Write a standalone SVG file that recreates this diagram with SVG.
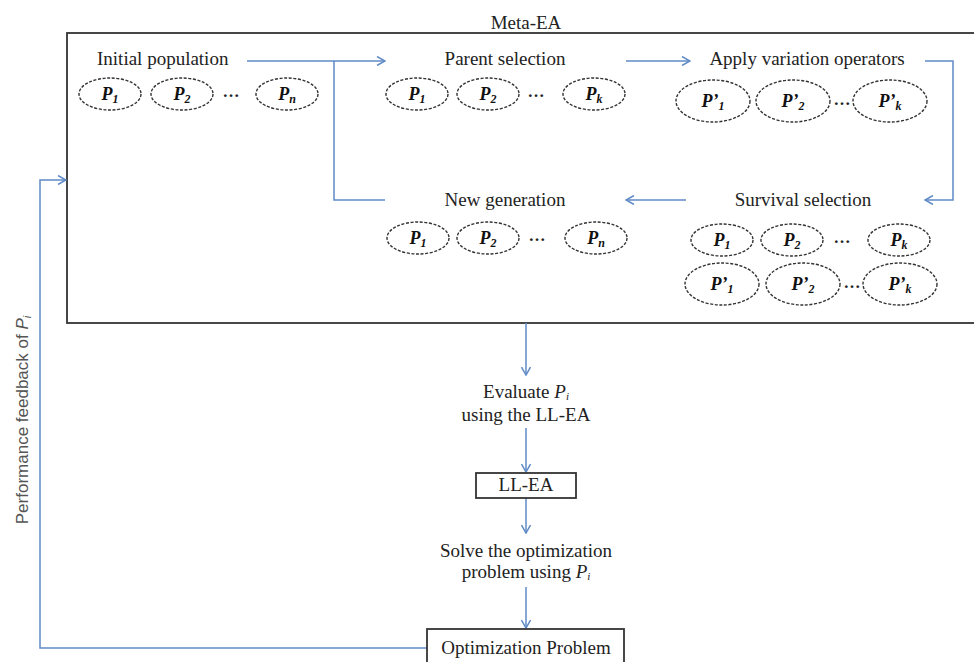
<svg xmlns="http://www.w3.org/2000/svg" width="974" height="662" viewBox="0 0 974 662">
  <style>
    .lbl { font-family: "Liberation Serif", "Times New Roman", serif; font-size: 19px; fill: #222; }
    .mid { text-anchor: middle; }
    .ind { fill: #fff; stroke: #333; stroke-width: 1.4; stroke-dasharray: 3 1.6; }
    .pl { font-family: "Liberation Serif", "Times New Roman", serif; font-size: 18px; font-weight: bold; font-style: italic; fill: #111; text-anchor: middle; }
    .sub { font-size: 12px; }
    .dots { font-family: "Liberation Serif", "Times New Roman", serif; font-size: 17px; font-weight: bold; fill: #222; text-anchor: middle; }
    .box { fill: #fff; stroke: #333; stroke-width: 1.8; }
    .conn { fill: none; stroke: #5f8ac6; stroke-width: 1.5; }
    .side { font-family: "Liberation Sans", Arial, sans-serif; font-size: 17px; fill: #555; text-anchor: middle; }
  </style>
  <defs>
    <marker id="arrow" viewBox="0 0 10 10" refX="9" refY="5" markerWidth="10" markerHeight="10" markerUnits="userSpaceOnUse" orient="auto">
      <path d="M1,0.5 L9,5 L1,9.5" fill="none" stroke="#5f8ac6" stroke-width="1.5"/>
    </marker>
  </defs>

  <rect width="974" height="662" fill="#fff"/>

  <!-- outer meta-level container -->
  <g id="meta-ea">
    <rect class="box" x="67" y="33" width="930" height="290" stroke-width="2.2"/>
    <text class="lbl mid" x="526" y="29">Meta-EA</text>
  </g>

  <!-- connectors -->
  <g id="connectors">
    <line class="conn" x1="247" y1="61" x2="385" y2="61" marker-end="url(#arrow)"/>
    <polyline class="conn" points="334,61 334,200 385,200"/>
    <line class="conn" x1="626" y1="61" x2="690" y2="61" marker-end="url(#arrow)"/>
    <polyline class="conn" points="925,61 953,61 953,200 925,200" marker-end="url(#arrow)"/>
    <line class="conn" x1="686" y1="200" x2="626" y2="200" marker-end="url(#arrow)"/>
    <line class="conn" x1="526" y1="323" x2="526" y2="375" marker-end="url(#arrow)"/>
    <line class="conn" x1="526" y1="428" x2="526" y2="472" marker-end="url(#arrow)"/>
    <line class="conn" x1="526" y1="498" x2="526" y2="533" marker-end="url(#arrow)"/>
    <line class="conn" x1="526" y1="587" x2="526" y2="628" marker-end="url(#arrow)"/>
    <polyline class="conn" points="427,648 40,648 40,180 66,180" marker-end="url(#arrow)"/>
    <text class="side" transform="translate(28,420) rotate(-90)">Performance feedback of <tspan font-style="italic">P</tspan><tspan font-style="italic" font-size="11" dy="3">i</tspan></text>
  </g>

  <!-- initial population -->
  <g id="initial-population">
    <text class="lbl" x="97" y="65">Initial population</text>
    <ellipse class="ind" cx="110" cy="94" rx="31" ry="16"/>
    <text class="pl" x="110" y="100">P<tspan class="sub" dy="3">1</tspan></text>
    <ellipse class="ind" cx="182" cy="94" rx="31" ry="16"/>
    <text class="pl" x="182" y="100">P<tspan class="sub" dy="3">2</tspan></text>
    <text class="dots" x="231" y="97">…</text>
    <ellipse class="ind" cx="287" cy="94" rx="31" ry="16"/>
    <text class="pl" x="287" y="100">P<tspan class="sub" dy="3">n</tspan></text>
  </g>

  <!-- parent selection -->
  <g id="parent-selection">
    <text class="lbl mid" x="505" y="65">Parent selection</text>
    <ellipse class="ind" cx="417" cy="94" rx="31" ry="16"/>
    <text class="pl" x="417" y="100">P<tspan class="sub" dy="3">1</tspan></text>
    <ellipse class="ind" cx="488" cy="94" rx="31" ry="16"/>
    <text class="pl" x="488" y="100">P<tspan class="sub" dy="3">2</tspan></text>
    <text class="dots" x="536" y="97">…</text>
    <ellipse class="ind" cx="594" cy="94" rx="31" ry="16"/>
    <text class="pl" x="594" y="100">P<tspan class="sub" dy="3">k</tspan></text>
  </g>

  <!-- variation operators -->
  <g id="variation">
    <text class="lbl mid" x="807" y="65">Apply variation operators</text>
    <ellipse class="ind" cx="713" cy="101" rx="37" ry="21"/>
    <text class="pl" x="713" y="107">P’<tspan class="sub" dy="3">1</tspan></text>
    <ellipse class="ind" cx="793" cy="101" rx="37" ry="21"/>
    <text class="pl" x="793" y="107">P’<tspan class="sub" dy="3">2</tspan></text>
    <text class="dots" x="842" y="105">…</text>
    <ellipse class="ind" cx="890" cy="101" rx="37" ry="21"/>
    <text class="pl" x="890" y="107">P’<tspan class="sub" dy="3">k</tspan></text>
  </g>

  <!-- survival selection -->
  <g id="survival-selection">
    <text class="lbl mid" x="803" y="206">Survival selection</text>
    <ellipse class="ind" cx="722" cy="240" rx="31" ry="16"/>
    <text class="pl" x="722" y="246">P<tspan class="sub" dy="3">1</tspan></text>
    <ellipse class="ind" cx="792" cy="240" rx="31" ry="16"/>
    <text class="pl" x="792" y="246">P<tspan class="sub" dy="3">2</tspan></text>
    <text class="dots" x="842" y="243">…</text>
    <ellipse class="ind" cx="899" cy="240" rx="31" ry="16"/>
    <text class="pl" x="899" y="246">P<tspan class="sub" dy="3">k</tspan></text>
    <ellipse class="ind" cx="722" cy="284" rx="37" ry="21"/>
    <text class="pl" x="722" y="290">P’<tspan class="sub" dy="3">1</tspan></text>
    <ellipse class="ind" cx="803" cy="284" rx="37" ry="21"/>
    <text class="pl" x="803" y="290">P’<tspan class="sub" dy="3">2</tspan></text>
    <text class="dots" x="852" y="288">…</text>
    <ellipse class="ind" cx="900" cy="284" rx="37" ry="21"/>
    <text class="pl" x="900" y="290">P’<tspan class="sub" dy="3">k</tspan></text>
  </g>

  <!-- new generation -->
  <g id="new-generation">
    <text class="lbl mid" x="505" y="206">New generation</text>
    <ellipse class="ind" cx="418" cy="238" rx="31" ry="16"/>
    <text class="pl" x="418" y="244">P<tspan class="sub" dy="3">1</tspan></text>
    <ellipse class="ind" cx="488" cy="238" rx="31" ry="16"/>
    <text class="pl" x="488" y="244">P<tspan class="sub" dy="3">2</tspan></text>
    <text class="dots" x="537" y="241">…</text>
    <ellipse class="ind" cx="596" cy="238" rx="31" ry="16"/>
    <text class="pl" x="596" y="244">P<tspan class="sub" dy="3">n</tspan></text>
  </g>

  <!-- evaluation step -->
  <g id="evaluate">
    <text class="lbl mid" x="526" y="398">Evaluate <tspan font-style="italic">P</tspan><tspan font-style="italic" font-size="11" dy="2">i</tspan></text>
    <text class="lbl mid" x="526" y="421">using the LL-EA</text>
  </g>

  <g id="ll-ea">
    <rect class="box" x="476" y="473" width="100" height="25" stroke-width="1.6"/>
    <text class="lbl mid" x="526" y="491">LL-EA</text>
  </g>

  <g id="solve">
    <text class="lbl mid" x="526" y="557">Solve the optimization</text>
    <text class="lbl mid" x="526" y="578">problem using <tspan font-style="italic">P</tspan><tspan font-style="italic" font-size="11" dy="2">i</tspan></text>
  </g>

  <g id="optimization-problem">
    <rect class="box" x="427" y="629" width="197" height="45" stroke-width="1.6"/>
    <text class="lbl mid" x="526" y="654">Optimization Problem</text>
  </g>
</svg>
